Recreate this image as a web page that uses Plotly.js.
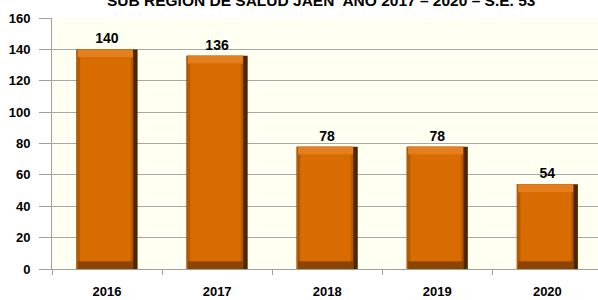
<!DOCTYPE html>
<html><head><meta charset="utf-8">
<script src="https://cdn.plot.ly/plotly-3.0.1.min.js"></script>
<style>html,body{margin:0;padding:0;background:#fff}</style>
</head><body>
<div id="chart" style="width:598px;height:300px"></div>
<script>
const years = ['2016', '2017', '2018', '2019', '2020'];
const cases = [140, 136, 78, 78, 54];
const titleText = 'SUB REGION DE SALUD JAEN  AÑO 2017 – 2020 – S.E. 53';

const font = 'Liberation Sans, Arial, sans-serif';

const outer = {
  type: 'bar', x: years, y: cases, width: 0.555,
  marker: {color: '#4e2600', line: {width: 0}},
  text: cases.map(String), textposition: 'outside', cliponaxis: false,
  textfont: {family: font, size: 14, color: '#000', weight: 'bold'},
  hoverinfo: 'x+y'
};
const side = {
  type: 'bar', x: years, y: cases, width: 0.515, offset: -0.2775,
  marker: {color: '#b65a00', line: {width: 0}}, hoverinfo: 'skip'
};
const bottomEdge = {
  type: 'bar', x: years, y: cases.map(() => 5), base: 0,
  width: 0.5, offset: -0.265,
  marker: {color: '#8a4400', line: {width: 0}}, hoverinfo: 'skip'
};
const face = {
  type: 'bar', x: years, y: cases.map(v => v - 10), base: 5,
  width: 0.46, offset: -0.245,
  marker: {color: '#d96c00', line: {width: 0}}, hoverinfo: 'skip'
};
const topEdge = {
  type: 'bar', x: years, y: cases.map(() => 5), base: cases.map(v => v - 5),
  width: 0.5, offset: -0.265,
  marker: {color: '#e57e1c', line: {width: 0}}, hoverinfo: 'skip'
};

const layout = {
  width: 598, height: 300,
  margin: {l: 52, r: 0, t: 18, b: 31},
  paper_bgcolor: '#ffffff', plot_bgcolor: '#fffff2',
  barmode: 'overlay', showlegend: false,
  annotations: [{text: '<b>' + titleText + '</b>', xref: 'paper', yref: 'paper',
                 x: 0.494, y: 1, xanchor: 'center', yanchor: 'middle', yshift: 18,
                 showarrow: false,
                 font: {family: font, size: 15.5, color: '#000'}}],
  xaxis: {type: 'category', range: [-0.5, 4.46], showgrid: false,
          showline: true, linecolor: '#a0a0a0', linewidth: 1,
          ticks: 'outside', tickson: 'boundaries', ticklen: 5, tickcolor: '#a0a0a0',
          ticklabelstandoff: 10,
          tickfont: {family: font, size: 13, color: '#000', weight: 'bold'}},
  yaxis: {range: [0, 160], dtick: 20, showgrid: true, gridcolor: '#a8a8a8', gridwidth: 1,
          showline: true, linecolor: '#a0a0a0', linewidth: 1,
          ticks: 'outside', ticklen: 12, tickcolor: '#a0a0a0',
          ticklabelstandoff: 6,
          zeroline: false,
          tickfont: {family: font, size: 13, color: '#000', weight: 'bold'}}
};

Plotly.newPlot('chart', [outer, side, bottomEdge, face, topEdge], layout, {displayModeBar: false, staticPlot: true});
</script>
</body></html>
